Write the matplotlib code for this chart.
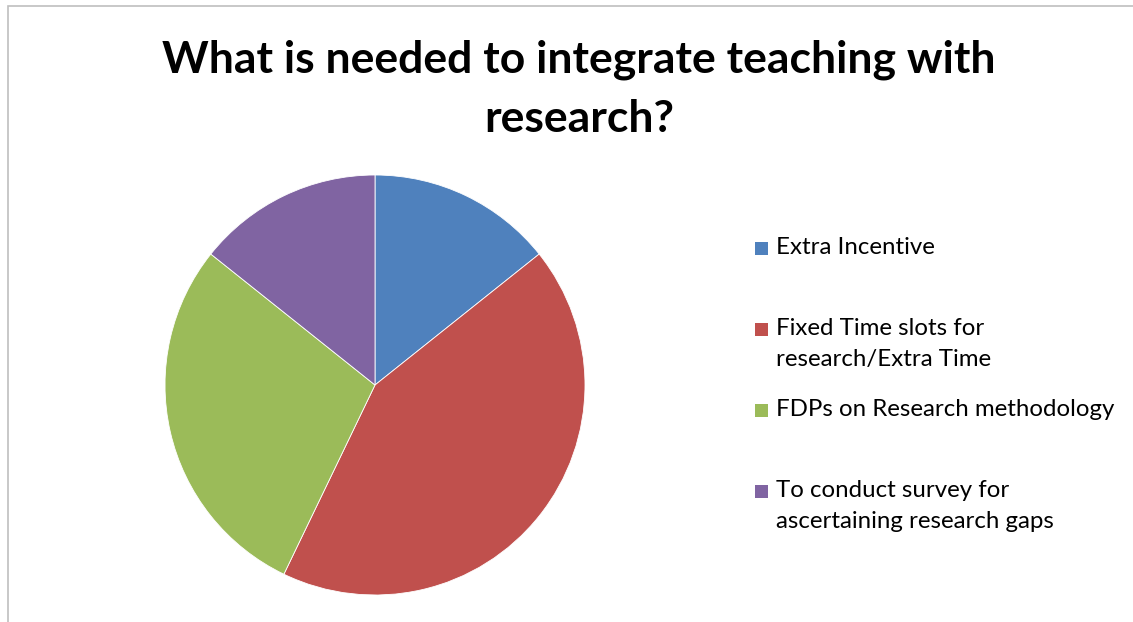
import matplotlib.pyplot as plt
from matplotlib.patches import Rectangle

# survey answers
categories = ['Extra Incentive',
              'Fixed Time slots for\nresearch/Extra Time',
              'FDPs on Research methodology',
              'To conduct survey for\nascertaining research gaps']
responses = [1, 3, 2, 1]
colors = ['#4F81BD', '#C0504D', '#9BBB59', '#8064A2']

W, H = 1133, 622
fig = plt.figure(figsize=(W / 100, H / 100), dpi=100)
fig.patch.set_facecolor('white')

# chart frame
fig.add_artist(Rectangle((8 / W, -0.05), (1140 - 8) / W, (H - 6) / H + 0.05,
                         transform=fig.transFigure, fill=False,
                         edgecolor='#bfbfbf', linewidth=1.2))

fig.text(579 / W, 1 - 89 / H,
         'What is needed to integrate teaching with\nresearch?',
         ha='center', va='center', fontsize=32, fontweight='bold',
         family='Lato', linespacing=1.57)

# pie, centre (375, 385) radius 210 px
ax = fig.add_axes([(375 - 210) / W, 1 - (385 + 210) / H, 420 / W, 420 / H])
ax.pie(responses, colors=colors, startangle=90, counterclock=False,
       wedgeprops=dict(edgecolor='white', linewidth=0.6))
ax.set_xlim(-1, 1)
ax.set_ylim(-1, 1)
ax.set_aspect('equal')

# legend entries, laid out like the spreadsheet legend
entry_y = [248, 329, 410, 491]   # centre of first line, px from top
for lab, c, y in zip(categories, colors, entry_y):
    fig.add_artist(Rectangle((755 / W, 1 - (y + 7) / H), 13 / W, 13 / H,
                             transform=fig.transFigure,
                             facecolor=c, edgecolor='none'))
    fig.text(776 / W, 1 - (y - 11) / H, lab, ha='left', va='top',
             fontsize=17.3, family='Lato', linespacing=1.58)

fig.savefig('out.png', dpi=100)
